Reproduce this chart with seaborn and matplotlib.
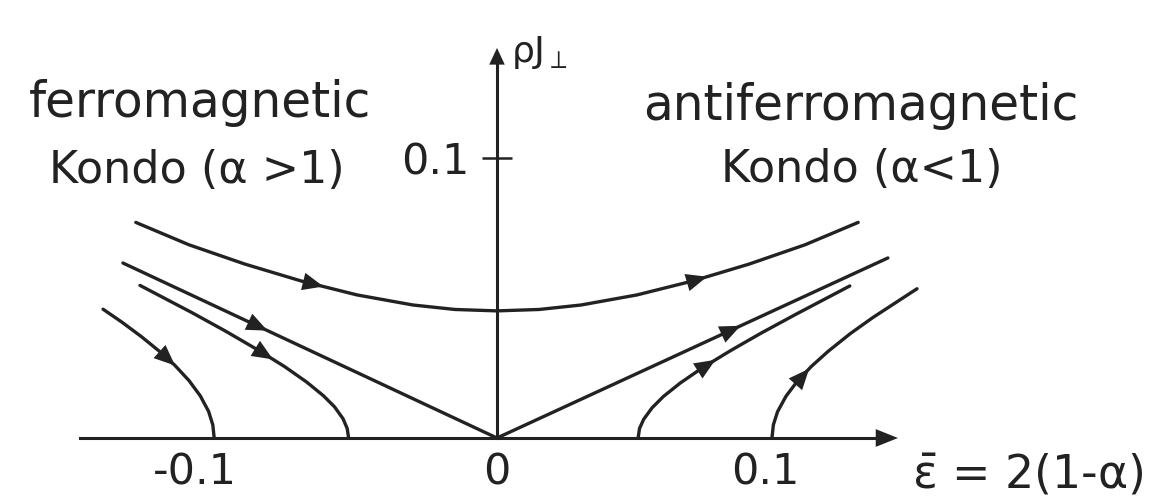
import numpy as np
import pandas as pd
import matplotlib
matplotlib.use("Agg")
import matplotlib.pyplot as plt
from matplotlib.transforms import ScaledTranslation
import seaborn as sns

# Scaling flow of the anisotropic Kondo model: coupling rho*J_perp versus eps = 2(1 - alpha)
TOP_EPS = [-0.129, -0.11, -0.09, -0.07, -0.05, -0.03, -0.015, 0.0,
           0.015, 0.03, 0.05, 0.07, 0.09, 0.11, 0.129]
TOP_J = [0.0770, 0.0690, 0.0621, 0.0561, 0.0511, 0.0475, 0.0459, 0.0454,
         0.0459, 0.0475, 0.0511, 0.0561, 0.0621, 0.0690, 0.0770]

SEP_LEFT_EPS = [-0.1336, 0.0]
SEP_LEFT_J = [0.0625, 0.0]
SEP_RIGHT_EPS = [0.0, 0.1396]
SEP_RIGHT_J = [0.0, 0.0643]

FERRO_OUTER_EPS = [-0.1407, -0.134, -0.127, -0.12, -0.115, -0.11, -0.106, -0.103, -0.1015, -0.101]
FERRO_OUTER_J = [0.0460, 0.0414, 0.0362, 0.0305, 0.0259, 0.0205, 0.0151, 0.0095, 0.0047, 0.0]

FERRO_INNER_EPS = [-0.1275, -0.109, -0.097, -0.086, -0.076, -0.068, -0.062, -0.058, -0.055, -0.0535, -0.053]
FERRO_INNER_J = [0.0545, 0.0448, 0.0382, 0.0318, 0.0256, 0.0200, 0.0151, 0.0111, 0.0069, 0.0034, 0.0]

AFM_INNER_EPS = [0.0504, 0.0509, 0.0524, 0.0554, 0.0594, 0.0654, 0.0734, 0.0834, 0.0944, 0.1064, 0.126]
AFM_INNER_J = [0.0, 0.0034, 0.0067, 0.0108, 0.0148, 0.0196, 0.0251, 0.0312, 0.0375, 0.0440, 0.0543]

AFM_OUTER_EPS = [0.0982, 0.0987, 0.1002, 0.1032, 0.1072, 0.1122, 0.1182, 0.1262, 0.1342, 0.150]
AFM_OUTER_J = [0.0, 0.0047, 0.0094, 0.0149, 0.0202, 0.0255, 0.0309, 0.0373, 0.0430, 0.0533]

# where along each flow line the direction arrow sits (eps of the arrow tip)
ARROW_AT = {
    "top": [-0.062, 0.075],
    "sep_left": [-0.082],
    "sep_right": [0.087],
    "ferro_outer": [-0.115],
    "ferro_inner": [-0.080],
    "afm_inner": [0.078],
    "afm_outer": [0.1115],
}

X_TICKS = [-0.1, 0.0, 0.1]
X_TICK_LABELS = ["-0.1", "0", "0.1"]
Y_TICKS = [0.1]
Y_TICK_LABELS = ["0.1"]

curves = {
    "top": (TOP_EPS, TOP_J),
    "sep_left": (SEP_LEFT_EPS, SEP_LEFT_J),
    "sep_right": (SEP_RIGHT_EPS, SEP_RIGHT_J),
    "ferro_outer": (FERRO_OUTER_EPS, FERRO_OUTER_J),
    "ferro_inner": (FERRO_INNER_EPS, FERRO_INNER_J),
    "afm_inner": (AFM_INNER_EPS, AFM_INNER_J),
    "afm_outer": (AFM_OUTER_EPS, AFM_OUTER_J),
}
frames = []
for name, (xs, ys) in curves.items():
    frames.append(pd.DataFrame({"curve": name, "eps": xs, "J": ys}))
df = pd.concat(frames, ignore_index=True)

sns.set_theme(style="white")
plt.rcParams["font.family"] = ["DejaVu Sans"]
plt.rcParams["mathtext.fontset"] = "dejavusans"
plt.rcParams["mathtext.default"] = "regular"

INK = "#222222"
W, H = 1171, 498
PPU = 2800.0          # pixels per data unit (both axes)
X0, Y0 = 497, 438     # pixel position of the origin

fig = plt.figure(figsize=(W / 100, H / 100), dpi=100)
fig.patch.set_facecolor("white")
ax = fig.add_axes([0, 0, 1, 1])
ax.set_xlim(-X0 / PPU, (W - X0) / PPU)
ax.set_ylim(-(H - Y0) / PPU, Y0 / PPU)
ax.set_facecolor("white")

sns.lineplot(data=df, x="eps", y="J", units="curve", estimator=None, sort=False,
             color=INK, linewidth=2.4, legend=False, ax=ax)

# direction arrows along the flow lines
for name, tips in ARROW_AT.items():
    xs, ys = curves[name]
    for xt in tips:
        d = 0.006
        yt = np.interp(xt, xs, ys)
        yb = np.interp(xt - d, xs, ys)
        ax.annotate("", xy=(xt, yt), xytext=(xt - d, yb),
                    arrowprops=dict(arrowstyle="-|>,head_length=0.75,head_width=0.32",
                                    color=INK, lw=0, shrinkA=0, shrinkB=0,
                                    mutation_scale=20))

# axes through the origin
x_end, y_end = 0.1432, 0.1393
for side in ["top", "right"]:
    ax.spines[side].set_visible(False)
ax.spines["left"].set_position(("data", 0))
ax.spines["bottom"].set_position(("data", 0))
ax.spines["left"].set_bounds(0, y_end - 0.004)
ax.spines["bottom"].set_bounds(-0.149, x_end - 0.004)
for side in ["left", "bottom"]:
    ax.spines[side].set_color(INK)
    ax.spines[side].set_linewidth(2.2)
ax.annotate("", xy=(x_end, 0), xytext=(x_end - 0.01, 0),
            arrowprops=dict(arrowstyle="-|>,head_length=0.8,head_width=0.32", color=INK,
                            lw=0, shrinkA=0, shrinkB=0, mutation_scale=20))
ax.annotate("", xy=(0, y_end), xytext=(0, y_end - 0.01),
            arrowprops=dict(arrowstyle="-|>,head_length=0.6,head_width=0.28", color=INK,
                            lw=0, shrinkA=0, shrinkB=0, mutation_scale=20))

ax.set_xticks(X_TICKS)
ax.set_xticklabels(X_TICK_LABELS)
ax.set_yticks(Y_TICKS)
ax.set_yticklabels(Y_TICK_LABELS)
ax.tick_params(axis="x", bottom=True, length=0, pad=10, labelsize=31, labelcolor=INK)
ax.tick_params(axis="y", left=True, direction="inout", length=21, width=1.8, color=INK,
               pad=9, labelsize=31, labelcolor=INK)
ax.set_xlabel("")
ax.set_ylabel("")
ax.grid(False)

# nudge the x tick labels the way they are lettered
shifts = [-22, 0, -12]
for lab, s in zip(ax.get_xticklabels(), shifts):
    lab.set_transform(lab.get_transform() + ScaledTranslation(s / 100, 0, fig.dpi_scale_trans))


def fpos(px, py):
    return px / W, 1 - py / H


fig.text(*fpos(200, 117), "ferromagnetic", ha="center", va="baseline", fontsize=35, color=INK)
fig.text(*fpos(197, 183), "Kondo (α >1)", ha="center", va="baseline", fontsize=32, color=INK)
fig.text(*fpos(861, 120), "antiferromagnetic", ha="center", va="baseline", fontsize=35, color=INK)
fig.text(*fpos(862, 182), "Kondo (α<1)", ha="center", va="baseline", fontsize=32, color=INK)
fig.text(*fpos(511, 62), r"$\rho J_{\perp}$", ha="left", va="baseline", fontsize=26, color=INK)
fig.text(*fpos(912, 488), r"$\bar{\varepsilon}$ = 2(1-α)", ha="left", va="baseline",
         fontsize=33, color=INK)

fig.savefig("out.png", dpi=100, facecolor="white")
